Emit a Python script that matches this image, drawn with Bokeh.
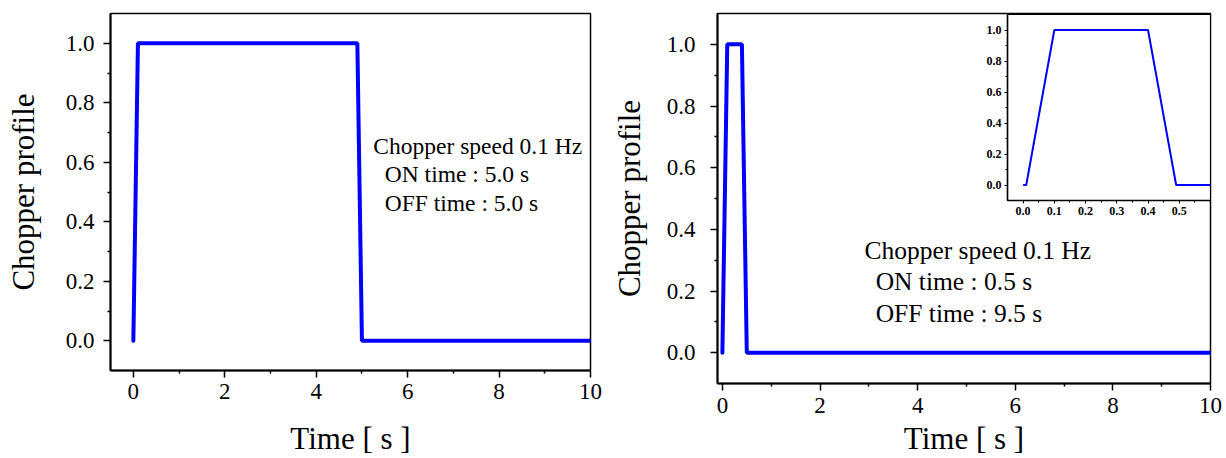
from bokeh.plotting import figure
from bokeh.layouts import row, column
from bokeh.models import Range1d, FixedTicker, PrintfTickFormatter, Label
from bokeh.embed import file_html
from bokeh.resources import INLINE

# ---- data ----
time_a = [0.0, 0.1, 4.9, 5.0, 10.0]
profile_a = [0.0, 1.0, 1.0, 0.0, 0.0]
time_b = [0.0, 0.1, 0.4, 0.5, 10.0]
profile_b = [0.0, 1.0, 1.0, 0.0, 0.0]
time_inset = [0.0, 0.01, 0.1, 0.4, 0.49, 0.6]
profile_inset = [0.0, 0.0, 1.0, 1.0, 0.0, 0.0]

x_major = [0, 2, 4, 6, 8, 10]
x_minor = [1, 3, 5, 7, 9]
y_major = [0.0, 0.2, 0.4, 0.6, 0.8, 1.0]
y_minor = [0.1, 0.3, 0.5, 0.7, 0.9]
inset_x_major = [0.0, 0.1, 0.2, 0.3, 0.4, 0.5]
inset_x_minor = [0.05, 0.15, 0.25, 0.35, 0.45, 0.55]

text_a = ["Chopper speed 0.1 Hz", "ON time : 5.0 s", "OFF time : 5.0 s"]
text_b = ["Chopper speed 0.1 Hz", "ON time : 0.5 s", "OFF time : 9.5 s"]

FONT = "Liberation Serif"
BLUE = "#0000ff"


def style_axes(p, xt, xm, yt, ym, tick_size, label_size, tick_out, minor_out, bold=False):
    p.xaxis.ticker = FixedTicker(ticks=xt, minor_ticks=xm)
    p.yaxis.ticker = FixedTicker(ticks=yt, minor_ticks=ym)
    for ax in (p.xaxis[0], p.yaxis[0]):
        ax.axis_line_color = "black"
        ax.axis_line_width = 2 if not bold else 1.5
        ax.major_tick_line_color = "black"
        ax.major_tick_line_width = 1.5 if not bold else 1
        ax.minor_tick_line_color = "black"
        ax.minor_tick_line_width = 1.5 if not bold else 1
        ax.major_tick_in = 0
        ax.major_tick_out = tick_out
        ax.minor_tick_in = 0
        ax.minor_tick_out = minor_out
        ax.major_label_text_font = FONT
        ax.major_label_text_font_size = tick_size
        ax.major_label_text_color = "black"
        ax.major_label_text_font_style = "bold" if bold else "normal"
        ax.axis_label_text_font = FONT
        ax.axis_label_text_font_size = label_size
        ax.axis_label_text_font_style = "normal"
        ax.axis_label_text_color = "black"
    p.xgrid.visible = False
    p.ygrid.visible = False
    p.outline_line_color = "black"
    p.outline_line_width = 1.5 if not bold else 1.2
    p.outline_line_alpha = 1.0


# ---- left panel ----
p1 = figure(width=608, height=458, output_backend="svg", toolbar_location=None,
            x_range=Range1d(-0.5, 10), y_range=Range1d(-0.1, 1.1),
            min_border_left=110, min_border_right=18, min_border_top=13, min_border_bottom=86)
style_axes(p1, x_major, x_minor, y_major, y_minor, "23px", "31px", 7, 3)
p1.xaxis.formatter = PrintfTickFormatter(format="%d")
p1.yaxis.formatter = PrintfTickFormatter(format="%.1f")
p1.xaxis.axis_label = "Time [ s ]"
p1.yaxis.axis_label = "Chopper profile"
p1.xaxis.major_label_standoff = 6
p1.yaxis.major_label_standoff = 9
p1.xaxis.axis_label_standoff = 19
p1.yaxis.axis_label_standoff = 22
p1.line(time_a, profile_a, line_color=BLUE, line_width=4, line_cap="round")
for txt, x, y in zip(text_a, [5.25, 5.50, 5.50], [0.656, 0.559, 0.462]):
    p1.add_layout(Label(x=x, y=y, text=txt, text_font=FONT, text_font_size="23.5px",
                        text_baseline="alphabetic", text_align="left", text_color="black"))

# ---- right panel ----
p2 = figure(width=618, height=458, output_backend="svg", toolbar_location=None,
            x_range=Range1d(-0.1, 10), y_range=Range1d(-0.1, 1.1),
            min_border_left=107, min_border_right=16, min_border_top=13, min_border_bottom=74)
style_axes(p2, x_major, x_minor, y_major, y_minor, "23px", "31px", 7, 3)
p2.xaxis.formatter = PrintfTickFormatter(format="%d")
p2.yaxis.formatter = PrintfTickFormatter(format="%.1f")
p2.xaxis.axis_label = "Time [ s ]"
p2.yaxis.axis_label = "Chopper profile"
p2.xaxis.major_label_standoff = 7
p2.yaxis.major_label_standoff = 15
p2.xaxis.axis_label_standoff = 5
p2.yaxis.axis_label_standoff = 17
p2.line(time_b, profile_b, line_color=BLUE, line_width=4, line_cap="round")
for txt, x, y in zip(text_b, [2.91, 3.14, 3.14], [0.331, 0.230, 0.128]):
    p2.add_layout(Label(x=x, y=y, text=txt, text_font=FONT, text_font_size="25.5px",
                        text_baseline="alphabetic", text_align="left", text_color="black"))

# ---- inset ----
p3 = figure(width=236, height=211, output_backend="svg", toolbar_location=None,
            x_range=Range1d(-0.05, 0.6), y_range=Range1d(-0.1, 1.1),
            min_border_left=32, min_border_right=1, min_border_top=1, min_border_bottom=24)
style_axes(p3, inset_x_major, inset_x_minor, y_major, y_minor, "12px", "12px", 3, 2, bold=True)
p3.xaxis.formatter = PrintfTickFormatter(format="%.1f")
p3.yaxis.formatter = PrintfTickFormatter(format="%.1f")
p3.xaxis.major_label_standoff = 3
p3.yaxis.major_label_standoff = 3
p3.border_fill_alpha = 0.0
p3.background_fill_color = "white"
p3.line(time_inset, profile_inset, line_color=BLUE, line_width=2)
p3.styles = {"position": "absolute", "left": "975px", "top": "13px", "z-index": "5"}

layout = column(row(column(p1), column(p2)), p3)
open("out.html", "w").write(file_html(layout, INLINE))
